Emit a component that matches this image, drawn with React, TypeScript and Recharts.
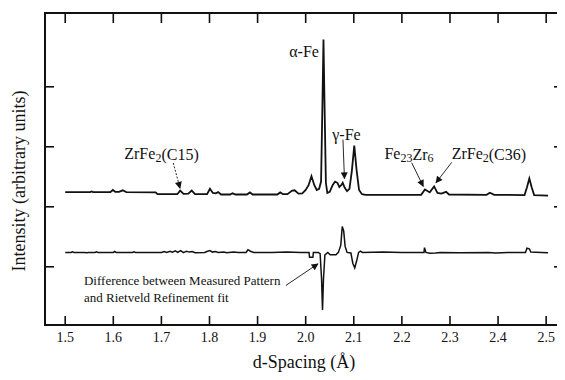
import { LineChart, Line, XAxis, YAxis, ReferenceLine, ReferenceDot, ReferenceArea } from 'recharts'

// measured pattern (d-spacing, intensity)
const measuredD = [
  1.5, 1.552, 1.555, 1.558, 1.594, 1.599, 1.604, 1.612, 1.6195, 1.627, 1.688, 1.692,
  1.733, 1.739, 1.746, 1.756, 1.763, 1.77, 1.795, 1.801, 1.807, 1.813, 1.818, 1.824,
  1.843, 1.848, 1.854, 1.878, 1.884, 1.89, 1.941, 1.947, 1.953, 1.962, 1.972, 1.977,
  1.985, 1.993, 2.0, 2.006, 2.012, 2.018, 2.023, 2.028, 2.032, 2.035, 2.037, 2.039,
  2.042, 2.045, 2.05, 2.056, 2.061, 2.066, 2.07, 2.074, 2.077, 2.081, 2.086, 2.091,
  2.096, 2.101, 2.106, 2.111, 2.117, 2.125, 2.24, 2.248, 2.258, 2.267, 2.274, 2.282,
  2.292, 2.298, 2.376, 2.383, 2.392, 2.455, 2.46, 2.465, 2.47, 2.475, 2.504,
]
const measuredI = [
  2.245, 2.245, 2.255, 2.245, 2.245, 2.28, 2.25, 2.25, 2.275, 2.245, 2.24, 2.21,
  2.21, 2.27, 2.215, 2.22, 2.27, 2.21, 2.21, 2.3, 2.23, 2.225, 2.245, 2.205,
  2.205, 2.225, 2.205, 2.205, 2.24, 2.205, 2.205, 2.24, 2.21, 2.21, 2.27, 2.275,
  2.22, 2.225, 2.28, 2.36, 2.51, 2.36, 2.28, 2.3, 2.42, 3.8, 4.79, 3.8,
  2.4, 2.23, 2.25, 2.36, 2.42, 2.4, 2.33, 2.36, 2.4, 2.32, 2.26, 2.3,
  2.6, 3.02, 2.6, 2.28, 2.21, 2.2, 2.2, 2.29, 2.24, 2.34, 2.23, 2.22,
  2.25, 2.205, 2.2, 2.235, 2.2, 2.195, 2.32, 2.47, 2.32, 2.195, 2.185,
]

// difference curve (measured - Rietveld fit)
const diffD = [
  1.5, 1.512, 1.515, 1.518, 1.54, 1.545, 1.548, 1.562, 1.565, 1.568, 1.6, 1.603,
  1.606, 1.64, 1.643, 1.646, 1.7, 1.706, 1.711, 1.718, 1.723, 1.729, 1.734, 1.74,
  1.746, 1.752, 1.758, 1.764, 1.77, 1.79, 1.796, 1.801, 1.806, 1.812, 1.818, 1.83,
  1.836, 1.85, 1.86, 1.876, 1.88, 1.885, 1.892, 1.93, 1.96, 1.99, 2.007, 2.008,
  2.015, 2.016, 2.026, 2.03, 2.033, 2.035, 2.037, 2.04, 2.046, 2.051, 2.063, 2.068,
  2.073, 2.076, 2.079, 2.082, 2.086, 2.094, 2.098, 2.102, 2.106, 2.11, 2.114, 2.118,
  2.16, 2.2, 2.246, 2.247, 2.25, 2.258, 2.27, 2.28, 2.32, 2.38, 2.395, 2.42,
  2.457, 2.46, 2.465, 2.468, 2.49, 2.504,
]
const diffI = [
  1.24, 1.24, 1.25, 1.24, 1.24, 1.235, 1.24, 1.24, 1.25, 1.24, 1.24, 1.255,
  1.24, 1.24, 1.25, 1.24, 1.24, 1.255, 1.24, 1.26, 1.245, 1.265, 1.24, 1.27,
  1.235, 1.26, 1.245, 1.255, 1.235, 1.24, 1.26, 1.27, 1.245, 1.255, 1.24, 1.245,
  1.235, 1.245, 1.24, 1.24, 1.285, 1.26, 1.24, 1.24, 1.245, 1.24, 1.24, 1.16,
  1.16, 1.24, 1.24, 1.22, 0.8, 0.28, 0.8, 1.2, 1.24, 1.2, 1.2, 1.24,
  1.36, 1.67, 1.6, 1.34, 1.24, 1.23, 1.06, 0.98, 1.1, 1.24, 1.26, 1.24,
  1.245, 1.24, 1.24, 1.32, 1.24, 1.225, 1.23, 1.24, 1.235, 1.24, 1.23, 1.24,
  1.24, 1.31, 1.3, 1.245, 1.24, 1.235,
]

const xTicks = [1.5, 1.6, 1.7, 1.8, 1.9, 2.0, 2.1, 2.2, 2.3, 2.4, 2.5]
const yTicks = [1, 2, 3, 4]

const measured = measuredD.map((d, i) => ({ d, v: measuredI[i] }))
const diff = diffD.map((d, i) => ({ d, v: diffI[i] }))

const X_MIN = 1.458
const X_MAX = 2.535
const Y_MIN = 0.03
const Y_MAX = 5.23
// tick mark length in data units (~10px tall on x, ~9px wide on y)
const TOP_TICK = 10 / 59.9
const RIGHT_TICK = 9 / 481

const FONT = '"Liberation Serif", "Times New Roman", Times, serif'
const INK = '#111'
const serif = { fontFamily: FONT }

const BottomTick = ({ x, y, payload }: any) => (
  <g>
    <line x1={x} y1={y} x2={x} y2={y - 9} stroke={INK} strokeWidth={1.6} />
    <text x={x} y={y + 17} textAnchor="middle" style={serif} fontSize={14} fill={INK}>
      {Number(payload.value).toFixed(1)}
    </text>
  </g>
)
const LeftTick = ({ x, y }: any) => (
  <line x1={x} y1={y} x2={x + 9} y2={y} stroke={INK} strokeWidth={1.6} />
)

const arrow = (dashed?: boolean) => (p: any) => (
  <line
    x1={p.x1}
    y1={p.y1}
    x2={p.x2}
    y2={p.y2}
    stroke={INK}
    strokeWidth={0.9}
    strokeDasharray={dashed ? '2 1.5' : undefined}
    markerEnd="url(#arrowHead)"
  />
)

const note = (children: any, anchor: string = 'middle', size = 16) => (p: any) => (
  <text
    x={p.viewBox.x}
    y={p.viewBox.y}
    textAnchor={anchor}
    dominantBaseline="central"
    style={serif}
    fontSize={size}
    fill={INK}
  >
    {children}
  </text>
)

const App = () => {
  return (
    <div style={{ margin: -8, background: '#fff', width: 565, height: 380, fontFamily: FONT }}>
      <LineChart
        width={565}
        height={380}
        margin={{ top: 13, right: 2, bottom: 0, left: 0 }}
      >
        <defs>
          <marker
            id="arrowHead"
            viewBox="0 0 10 10"
            refX="9"
            refY="5"
            markerWidth="8"
            markerHeight="7"
            markerUnits="userSpaceOnUse"
            orient="auto"
          >
            <path d="M0,0 L10,5 L0,10 z" fill={INK} />
          </marker>
        </defs>
        <XAxis
          dataKey="d"
          type="number"
          domain={[X_MIN, X_MAX]}
          ticks={xTicks}
          interval={0}
          height={55}
          tickSize={0}
          tickMargin={0}
          tickLine={false}
          axisLine={{ stroke: INK, strokeWidth: 2 }}
          tick={<BottomTick />}
          allowDataOverflow
          label={(p: any) => (
            <text
              x={p.viewBox.x + p.viewBox.width / 2}
              y={p.viewBox.y + 43}
              textAnchor="middle"
              style={serif}
              fontSize={18}
              fill={INK}
            >
              d-Spacing (Å)
            </text>
          )}
        />
        <YAxis
          type="number"
          domain={[Y_MIN, Y_MAX]}
          ticks={yTicks}
          interval={0}
          width={45}
          tickSize={0}
          tickMargin={0}
          tickLine={false}
          axisLine={{ stroke: INK, strokeWidth: 2 }}
          tick={<LeftTick />}
          allowDataOverflow
          label={() => (
            <text
              x={19}
              y={181}
              transform="rotate(-90 19 181)"
              textAnchor="middle"
              dominantBaseline="central"
              style={serif}
              fontSize={18}
              fill={INK}
            >
              Intensity (arbitrary units)
            </text>
          )}
        />

        {/* plot frame (top / right sides) */}
        <ReferenceArea
          x1={X_MIN}
          x2={X_MAX}
          y1={Y_MIN}
          y2={Y_MAX}
          fill="none"
          stroke={INK}
          strokeWidth={2}
          ifOverflow="visible"
        />
        {xTicks.map((t) => (
          <ReferenceLine
            key={'tt' + t}
            segment={[{ x: t, y: Y_MAX }, { x: t, y: Y_MAX - TOP_TICK }]}
            stroke={INK}
            strokeWidth={1.6}
            ifOverflow="visible"
          />
        ))}
        {yTicks.map((t) => (
          <ReferenceLine
            key={'rt' + t}
            segment={[{ x: X_MAX, y: t }, { x: X_MAX - RIGHT_TICK, y: t }]}
            stroke={INK}
            strokeWidth={1.6}
            ifOverflow="visible"
          />
        ))}

        <Line
          data={measured}
          dataKey="v"
          type="linear"
          stroke={INK}
          strokeWidth={1.8}
          dot={false}
          isAnimationActive={false}
        />
        <Line
          data={diff}
          dataKey="v"
          type="linear"
          stroke={INK}
          strokeWidth={1.5}
          dot={false}
          isAnimationActive={false}
        />

        {/* arrows */}
        <ReferenceLine segment={[{ x: 2.0775, y: 3.12 }, { x: 2.0806, y: 2.47 }]} shape={arrow()} />
        <ReferenceLine segment={[{ x: 1.7247, y: 2.73 }, { x: 1.7387, y: 2.31 }]} shape={arrow(true)} />
        <ReferenceLine segment={[{ x: 2.2204, y: 2.734 }, { x: 2.2445, y: 2.34 }]} shape={arrow()} />
        <ReferenceLine segment={[{ x: 2.3035, y: 2.74 }, { x: 2.2709, y: 2.4 }]} shape={arrow()} />
        <ReferenceLine segment={[{ x: 1.959, y: 0.69 }, { x: 2.0256, y: 1.05 }]} shape={arrow()} />

        {/* text annotations */}
        <ReferenceDot x={2.0276} y={4.588} r={0} fill="none" stroke="none"
          label={note('α-Fe', 'end')} />
        <ReferenceDot x={2.0848} y={3.202} r={0} fill="none" stroke="none"
          label={note('γ-Fe')} />
        <ReferenceDot x={1.7002} y={2.885} r={0} fill="none" stroke="none"
          label={note(<>ZrFe<tspan dy={4} fontSize={12}>2</tspan><tspan dy={-4}>(C15)</tspan></>)} />
        <ReferenceDot x={2.2147} y={2.885} r={0} fill="none" stroke="none"
          label={note(<>Fe<tspan dy={4} fontSize={12}>23</tspan><tspan dy={-4}>Zr</tspan><tspan dy={4} fontSize={12}>6</tspan></>)} />
        <ReferenceDot x={2.3809} y={2.885} r={0} fill="none" stroke="none"
          label={note(<>ZrFe<tspan dy={4} fontSize={12}>2</tspan><tspan dy={-4}>(C36)</tspan></>)} />
        <ReferenceDot x={1.539} y={0.765} r={0} fill="none" stroke="none"
          label={note('Difference between Measured Pattern', 'start', 13)} />
        <ReferenceDot x={1.539} y={0.489} r={0} fill="none" stroke="none"
          label={note('and Rietveld Refinement fit', 'start', 13)} />
      </LineChart>
    </div>
  )
}

export default App
